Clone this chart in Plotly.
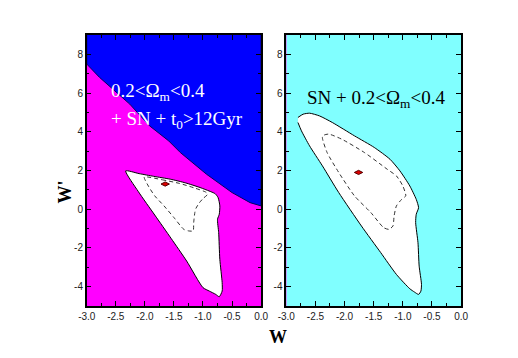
import plotly.graph_objects as go

# ---- data ----
x_ticks = [-3.0, -2.5, -2.0, -1.5, -1.0, -0.5, 0.0]
x_labels = ["-3.0", "-2.5", "-2.0", "-1.5", "-1.0", "-0.5", "0.0"]
y_ticks = [-4, -2, 0, 2, 4, 6, 8]
y_labels = ["-4", "-2", "0", "2", "4", "6", "8"]

# boundary of the excluded (blue) region, left panel
blue_x = [-3.0, -2.78, -2.26, -1.92, -1.59, -1.39, -1.25, -0.94, -0.5, -0.19, 0.0]
blue_y = [7.5, 6.81, 5.43, 4.31, 3.53, 2.93, 2.58, 1.81, 0.86, 0.34, 0.17]

# left panel: outer (solid) and inner (dashed) confidence contours
left_solid_x = [-2.33, -2.1, -1.85, -1.56, -1.3, -1.05, -0.86, -0.79, -0.74, -0.71, -0.72, -0.75,
                -0.73, -0.71, -0.67, -0.67, -0.72, -0.78, -0.89, -1.0, -1.28, -1.55, -1.83, -2.11, -2.33]
left_solid_y = [1.98, 1.84, 1.70, 1.55, 1.36, 1.12, 0.90, 0.80, 0.6, 0.17, -0.26, -0.52,
                -1.21, -2.59, -3.79, -4.23, -4.52, -4.4, -4.23, -4.05, -2.68, -1.5, -0.3, 0.9, 1.98]
left_dash_x = [-2.01, -1.7, -1.4, -1.15, -0.95, -0.92, -1.0, -1.06, -1.12, -1.14, -1.16, -1.17,
               -1.25, -1.33, -1.5, -1.67, -1.83, -1.94, -2.01]
left_dash_y = [1.66, 1.52, 1.33, 1.1, 0.88, 0.77, 0.55, 0.34, 0.05, -0.17, -0.69, -1.12,
               -1.12, -1.04, -0.43, 0.17, 0.69, 1.2, 1.66]
left_best = ([-1.65], [1.3])

# right panel contours
right_solid_x = [-2.80, -2.71, -2.60, -2.43, -2.21, -1.83, -1.49, -1.22, -1.05, -0.88, -0.77, -0.73,
                 -0.77, -0.78, -0.74, -0.72, -0.68, -0.69, -0.73, -0.80, -0.88, -1.11, -1.38, -1.71,
                 -2.10, -2.38, -2.60, -2.74, -2.80]
right_solid_y = [4.74, 4.91, 4.96, 4.82, 4.48, 3.79, 3.19, 2.58, 1.98, 1.2, 0.51, 0.08,
                 -0.26, -0.69, -1.73, -2.94, -3.88, -4.23, -4.40, -4.28, -4.11, -3.37, -2.24, -0.87,
                 0.86, 2.24, 3.27, 4.05, 4.48]
right_dash_x = [-2.38, -2.35, -2.27, -2.05, -1.66, -1.27, -1.11, -1.0, -0.95, -1.02, -1.11, -1.15,
                -1.17, -1.24, -1.33, -1.55, -1.83, -2.10, -2.30, -2.38]
right_dash_y = [3.71, 3.83, 3.88, 3.62, 2.93, 2.07, 1.72, 1.2, 0.69, 0.51, 0.17, -0.35,
                -0.87, -1.04, -0.95, -0.17, 0.69, 1.9, 2.93, 3.71]
right_best = ([-1.76], [1.9])

# ---- figure ----
# The page body has an 8px margin, so the figure is 510x350 and offset by 8px.
W, H, OFF = 510, 350, 8

fig = go.Figure()

fig.add_trace(go.Scatter(x=[-3.0] + blue_x + [0.0], y=[9] + blue_y + [9], mode="lines",
                         fill="toself", fillcolor="#0000FF",
                         line=dict(color="#000060", width=1), xaxis="x", yaxis="y",
                         hoverinfo="skip"))

for sx, sy, dx, dy, best, ax, ay in [
    (left_solid_x, left_solid_y, left_dash_x, left_dash_y, left_best, "x", "y"),
    (right_solid_x, right_solid_y, right_dash_x, right_dash_y, right_best, "x2", "y2"),
]:
    fig.add_trace(go.Scatter(x=sx, y=sy, mode="lines", fill="toself", fillcolor="white",
                             line=dict(color="black", width=1), xaxis=ax, yaxis=ay,
                             line_shape="spline", line_smoothing=0.6))
    fig.add_trace(go.Scatter(x=dx, y=dy, mode="lines",
                             line=dict(color="#333333", width=1, dash="4px,3px"),
                             xaxis=ax, yaxis=ay, line_shape="spline", line_smoothing=0.6))
    fig.add_trace(go.Scatter(x=best[0], y=best[1], mode="markers",
                             marker=dict(symbol="diamond-wide", size=6, color="#DD0000",
                                         line=dict(color="#550000", width=1)),
                             xaxis=ax, yaxis=ay))

tickfont = dict(family="Liberation Sans, Arial, sans-serif", size=10, color="#222222")

def xax(domain, anchor):
    return dict(domain=domain, anchor=anchor, range=[-3, 0], tickmode="array",
                tickvals=x_ticks, ticktext=x_labels, ticks="inside", ticklen=5, tickwidth=1,
                tickcolor="black", showline=True, linewidth=1.5, linecolor="black",
                mirror="ticks", showgrid=False, zeroline=False, tickfont=tickfont,
                minor=dict(ticks="inside", tickvals=[-2.75, -2.25, -1.75, -1.25, -0.75, -0.25],
                           ticklen=3, tickwidth=1, tickcolor="black", showgrid=False))

def yax(domain, anchor):
    return dict(domain=domain, anchor=anchor, range=[-5, 9], tickmode="array",
                tickvals=y_ticks, ticktext=y_labels, ticks="inside", ticklen=5, tickwidth=1,
                tickcolor="black", showline=True, linewidth=1.5, linecolor="black",
                mirror="ticks", showgrid=False, zeroline=False, tickfont=tickfont,
                minor=dict(ticks="inside", tickvals=[-3, -1, 1, 3, 5, 7],
                           ticklen=3, tickwidth=1, tickcolor="black", showgrid=False))

def px_x(p):
    return (p - OFF) / W

def px_y(p):
    return 1 - (p - OFF) / H

ydom = [px_y(306), px_y(35)]
fig.update_layout(
    width=W, height=H,
    margin=dict(l=0, r=0, t=0, b=0),
    paper_bgcolor="white",
    plot_bgcolor="#FF00FF",
    showlegend=False,
    xaxis=xax([px_x(80), px_x(260)], "y"),
    yaxis=yax(ydom, "x"),
    xaxis2=xax([px_x(286), px_x(466.5)], "y2"),
    yaxis2=yax(ydom, "x2"),
)

# right panel background
fig.add_shape(type="rect", xref="x2", yref="y2", x0=-3, x1=0, y0=-5, y1=9,
              fillcolor="#80FFFF", line=dict(width=0), layer="below")

txtfont = dict(family="Liberation Serif, Times New Roman, serif", size=19)
fig.add_annotation(xref="x", yref="y", x=-2.62, y=6.05, text="0.2&lt;Ω<sub>m</sub>&lt;0.4",
                   showarrow=False, xanchor="left", yanchor="middle",
                   font=dict(color="white", **txtfont))
fig.add_annotation(xref="x", yref="y", x=-2.62, y=4.6, text="+ SN + t<sub>0</sub>&gt;12Gyr",
                   showarrow=False, xanchor="left", yanchor="middle",
                   font=dict(color="white", **txtfont))
fig.add_annotation(xref="x2", yref="y2", x=-2.68, y=5.7, text="SN + 0.2&lt;Ω<sub>m</sub>&lt;0.4",
                   showarrow=False, xanchor="left", yanchor="middle",
                   font=dict(color="black", **txtfont))

titlefont = dict(family="Liberation Serif, Times New Roman, serif", size=18, color="black")
fig.add_annotation(xref="paper", yref="paper", x=px_x(58), y=px_y(192), text="<b>W'</b>",
                   textangle=-90, showarrow=False, xanchor="center", yanchor="middle",
                   font=titlefont)
fig.add_annotation(xref="paper", yref="paper", x=px_x(277), y=px_y(337), text="<b>W</b>",
                   showarrow=False, xanchor="center", yanchor="middle", font=titlefont)

fig.write_html("out.html")
